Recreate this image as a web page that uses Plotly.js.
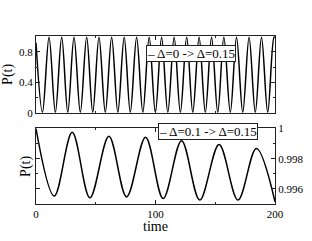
<!DOCTYPE html>
<html><head><meta charset="utf-8">
<script src="https://cdn.plot.ly/plotly-3.0.1.min.js"></script>
<style>html,body{margin:0;padding:0;background:#fff}#chart{width:312px;height:241px}</style>
</head><body><div id="chart"></div>
<script>
// Top panel: quench Δ=0 -> Δ=0.15 (extrema)
const timeTop = [0, 5.4, 10.9, 16.2, 21.5, 26.6, 31.8, 37.1, 42.4, 47.5, 52.7, 58.0, 63.3, 68.5, 73.8, 78.9, 84.2, 89.4, 94.7, 99.9, 105.1, 110.3, 115.6, 120.8, 126.1, 131.2, 136.5, 141.7, 146.9, 152.1, 157.2, 162.6, 167.8, 173.0, 178.3, 183.5, 188.7, 193.9, 199.2, 200];
const probTop = [0.92, 0.005, 0.995, 0.005, 0.995, 0.005, 0.995, 0.005, 0.995, 0.005, 0.995, 0.005, 0.995, 0.005, 0.995, 0.005, 0.995, 0.005, 0.995, 0.005, 0.995, 0.005, 0.995, 0.005, 0.995, 0.005, 0.995, 0.005, 0.995, 0.005, 0.995, 0.005, 0.995, 0.005, 0.995, 0.005, 0.995, 0.005, 0.995, 0.99];
// Bottom panel: quench Δ=0.1 -> Δ=0.15
const timeBottom = [0, 15.3, 30.3, 45.1, 61.0, 75.8, 91.7, 106.4, 121.8, 137.0, 153.2, 169.0, 184.4, 200];
const probBottom = [1.0, 0.99553, 0.99975, 0.99541, 0.99949, 0.99547, 0.99943, 0.99536, 0.99920, 0.99526, 0.99895, 0.99526, 0.99868, 0.99515];
const legendTop = 'Δ=0 -> Δ=0.15';
const legendBottom = 'Δ=0.1 -> Δ=0.15';
const xTickLabels = ['0', '100', '200'];
const yLabel = 'P(t)';
const xLabel = 'time';

const FONT = 'Liberation Serif';
const LC = '#222';
const lineStyle = {color: '#000', width: 1.5, shape: 'spline', smoothing: 1};

const traces = [
  {x: timeTop, y: probTop, type: 'scatter', mode: 'lines', line: lineStyle, xaxis: 'x', yaxis: 'y', name: legendTop, hoverinfo: 'skip'},
  {x: timeBottom, y: probBottom, type: 'scatter', mode: 'lines', line: lineStyle, xaxis: 'x2', yaxis: 'y2', name: legendBottom, hoverinfo: 'skip'}
];

function ax(extra) {
  return Object.assign({showline: true, linecolor: LC, linewidth: 1, showgrid: false, zeroline: false,
    ticks: 'inside', ticklen: 4, tickwidth: 1, tickcolor: LC, mirror: 'ticks',
    tickfont: {family: FONT, size: 11, color: '#000'}}, extra);
}

const layout = {
  width: 312, height: 241,
  margin: {l: 36, r: 37, t: 36, b: 37, pad: 0},
  paper_bgcolor: '#fff', plot_bgcolor: '#fff',
  font: {family: FONT, color: '#000'},
  showlegend: false,
  xaxis: ax({domain: [0, 1], anchor: 'y', range: [0, 200], tickmode: 'array', tickvals: [0, 100, 200], ticktext: xTickLabels, showticklabels: false,
    minor: {tickvals: [50, 150], ticks: 'inside', ticklen: 2, tickcolor: LC}}),
  yaxis: ax({domain: [0.543, 1], anchor: 'x', range: [0, 1.01], tick0: 0, dtick: 0.4,
    minor: {dtick: 0.2, ticks: 'inside', ticklen: 2, tickcolor: LC},
    title: {text: yLabel, font: {family: FONT, size: 14}, standoff: 3}}),
  xaxis2: ax({domain: [0, 1], anchor: 'y2', range: [0, 200], tickmode: 'array', tickvals: [0, 100, 200], ticktext: xTickLabels,
    minor: {tickvals: [50, 150], ticks: 'inside', ticklen: 2, tickcolor: LC}}),
  yaxis2: ax({domain: [0, 0.4506], anchor: 'x2', side: 'right', range: [0.995, 1.00002], tick0: 0, dtick: 0.002,
    minor: {dtick: 0.001, ticks: 'inside', ticklen: 2, tickcolor: LC}}),
  annotations: [
    {xref: 'paper', yref: 'paper', x: -0.039, y: 0.225, xanchor: 'center', yanchor: 'middle', textangle: -90, text: yLabel, showarrow: false, font: {family: FONT, size: 14, color: '#000'}},
    {xref: 'paper', yref: 'paper', x: 0.5, y: -0.135, xanchor: 'center', yanchor: 'middle', text: xLabel, showarrow: false, font: {family: FONT, size: 14, color: '#000'}},
    {xref: 'paper', yref: 'paper', x: 0.65, y: 0.893, xanchor: 'center', yanchor: 'middle', text: '– ' + legendTop, showarrow: false, bgcolor: '#fff', bordercolor: LC, borderwidth: 1, borderpad: 0, font: {family: FONT, size: 13, color: '#000'}},
    {xref: 'paper', yref: 'paper', x: 0.72, y: 0.430, xanchor: 'center', yanchor: 'middle', text: '– ' + legendBottom, showarrow: false, bgcolor: '#fff', bordercolor: LC, borderwidth: 1, borderpad: 0, font: {family: FONT, size: 13, color: '#000'}}
  ]
};

Plotly.newPlot('chart', traces, layout, {staticPlot: true, displayModeBar: false});
</script>
</body></html>
